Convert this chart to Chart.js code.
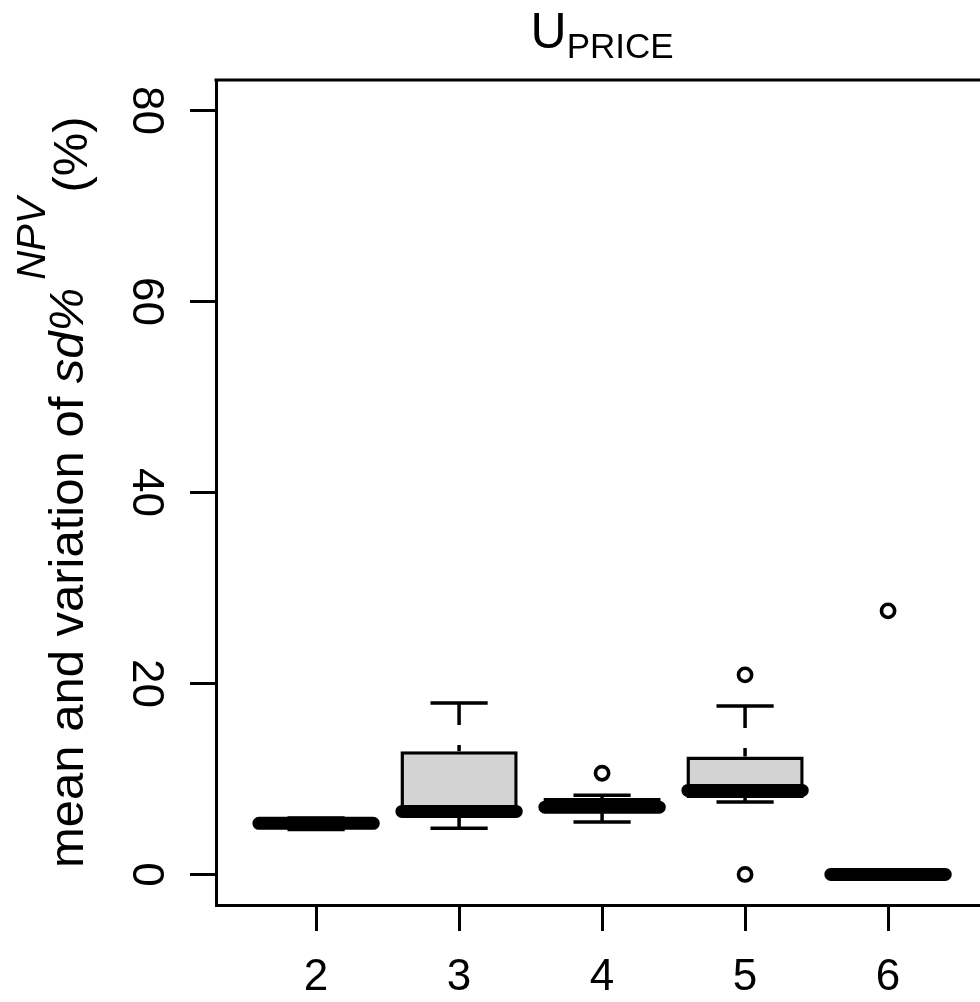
<!DOCTYPE html>
<html>
<head>
<meta charset="utf-8">
<script src="https://cdn.jsdelivr.net/npm/chart.js@4.4.1/dist/chart.umd.min.js"></script>
<style>
  html, body { margin: 0; padding: 0; background: #ffffff; overflow: hidden; }
  #wrap { width: 980px; height: 1002px; }
</style>
</head>
<body>
<div id="wrap"><canvas id="c" width="980" height="1002"></canvas></div>
<script>
// ---- data ----
const categories   = [2, 3, 4, 5, 6];
const xTickLabels  = ['2', '3', '4', '5', '6'];
const yTickValues  = [0, 20, 40, 60, 80];
const q1Values     = [5.1, 6.5, 6.4, 8.0, 0];
const q3Values     = [5.5, 12.9, 8.0, 12.35, 0];
const medianValues = [5.35, 6.6, 7.05, 8.8, 0];
const whiskerLow   = [4.7, 4.85, 5.5, 7.6, 0];
const whiskerHigh  = [5.9, 17.95, 8.3, 17.65, 0];
const outlierValues = [[], [], [10.6], [20.9, 0], [27.6]];

const titleMain = 'U';
const titleSub = 'PRICE';
const yTitleParts = ['mean and variation of ', 'sd%', 'NPV', '(%)'];

// ---- derived datasets (built from the arrays above) ----
const gap = (c) => ({ x: c, y: null });
const boxData = categories.map((c, i) => ({ x: c, y: [q1Values[i], q3Values[i]] }));
const whiskerData = [];
const stapleData = [];
const medianData = [];
const outlierData = [];
categories.forEach((c, i) => {
  whiskerData.push({ x: c, y: whiskerHigh[i] }, { x: c, y: q3Values[i] }, gap(c));
  whiskerData.push({ x: c, y: whiskerLow[i] }, { x: c, y: q1Values[i] }, gap(c));
  stapleData.push({ x: c - 0.2, y: whiskerHigh[i] }, { x: c + 0.2, y: whiskerHigh[i] }, gap(c));
  stapleData.push({ x: c - 0.2, y: whiskerLow[i] }, { x: c + 0.2, y: whiskerLow[i] }, gap(c));
  medianData.push({ x: c - 0.4, y: medianValues[i] }, { x: c + 0.4, y: medianValues[i] }, gap(c));
  outlierValues[i].forEach(v => outlierData.push({ x: c, y: v }));
});

const FONT = '"Liberation Sans", Arial, Helvetica, sans-serif';
Chart.defaults.font.family = FONT;
Chart.defaults.color = '#000';

const decor = {
  id: 'decor',
  afterDraw(chart) {
    const { ctx, chartArea, scales } = chart;
    const { left, right, top } = chartArea;
    ctx.save();
    // top frame line
    ctx.strokeStyle = '#000';
    ctx.lineWidth = 3;
    ctx.beginPath();
    ctx.moveTo(left - 1.5, top);
    ctx.lineTo(right, top);
    ctx.stroke();

    // title U_PRICE
    ctx.fillStyle = '#000';
    ctx.textBaseline = 'alphabetic';
    ctx.textAlign = 'left';
    ctx.font = '50px ' + FONT;
    const wU = ctx.measureText(titleMain).width;
    ctx.font = '35px ' + FONT;
    const wS = ctx.measureText(titleSub).width;
    const cx = scales.x.getPixelForValue(4);
    const sx = cx - (wU + wS) / 2;
    ctx.font = '50px ' + FONT;
    ctx.fillText(titleMain, sx, 48);
    ctx.font = '35px ' + FONT;
    ctx.fillText(titleSub, sx + wU, 58);

    // y axis title (rotated)
    ctx.translate(83, 868);
    ctx.rotate(-Math.PI / 2);
    let px = 0;
    ctx.font = '49px ' + FONT;
    ctx.fillText(yTitleParts[0], px, 0);
    px += ctx.measureText(yTitleParts[0]).width;
    ctx.font = 'italic 49px ' + FONT;
    ctx.fillText(yTitleParts[1], px, 0);
    px += ctx.measureText(yTitleParts[1]).width + 8;
    ctx.font = 'italic 40px ' + FONT;
    ctx.fillText(yTitleParts[2], px, -38);
    px += ctx.measureText(yTitleParts[2]).width + 5;
    ctx.font = '49px ' + FONT;
    ctx.fillText(yTitleParts[3], px, 4);
    ctx.restore();
  }
};

new Chart(document.getElementById('c'), {
  type: 'bar',
  data: {
    datasets: [
      {
        type: 'line', label: 'median', data: medianData, order: 0,
        borderColor: '#000', borderWidth: 13, borderCapStyle: 'round',
        pointRadius: 0, spanGaps: false, fill: false
      },
      {
        type: 'scatter', label: 'outliers', data: outlierData, order: 1,
        pointStyle: 'circle', pointRadius: 6.6, borderWidth: 3.6,
        borderColor: '#000', backgroundColor: '#fff'
      },
      {
        type: 'line', label: 'staples', data: stapleData, order: 2,
        borderColor: '#000', borderWidth: 3.5, borderCapStyle: 'butt',
        pointRadius: 0, spanGaps: false, fill: false
      },
      {
        type: 'line', label: 'whiskers', data: whiskerData, order: 3,
        borderColor: '#000', borderWidth: 3.5, borderDash: [22, 20], borderCapStyle: 'butt',
        pointRadius: 0, spanGaps: false, fill: false
      },
      {
        type: 'bar', label: 'box', data: boxData, order: 4,
        backgroundColor: '#d3d3d3', borderColor: '#000', borderWidth: 3.5,
        borderSkipped: false, barPercentage: 0.82, categoryPercentage: 1.0
      }
    ]
  },
  options: {
    responsive: false,
    animation: false,
    devicePixelRatio: 1,
    layout: { autoPadding: false, padding: { top: 80, left: 0, right: 0, bottom: 0 } },
    plugins: { legend: { display: false }, tooltip: { enabled: false }, title: { display: false } },
    scales: {
      x: {
        type: 'linear', min: 1.3, max: 6.643, offset: false,
        afterBuildTicks: (s) => { s.ticks = categories.map(v => ({ value: v })); },
        afterFit: (s) => { s.height = 97; s.paddingLeft = 0; s.paddingRight = 0; },
        grid: { display: true, offset: false, drawOnChartArea: false, drawTicks: true, tickLength: 26, tickWidth: 3, tickColor: '#000', lineWidth: 3, color: '#000' },
        border: { display: true, width: 3, color: '#000' },
        ticks: {
          font: { size: 44 }, color: '#000', padding: 20, maxRotation: 0, minRotation: 0,
          callback: (v) => { const i = categories.indexOf(v); return i >= 0 ? xTickLabels[i] : ''; }
        }
      },
      y: {
        type: 'linear', min: -3.2, max: 83.2,
        afterBuildTicks: (s) => { s.ticks = yTickValues.map(v => ({ value: v })); },
        afterFit: (s) => { s.width = 216; s.paddingTop = 0; s.paddingBottom = 0; },
        grid: { display: true, offset: false, drawOnChartArea: false, drawTicks: true, tickLength: 26, tickWidth: 3, tickColor: '#000', lineWidth: 3, color: '#000' },
        border: { display: true, width: 3, color: '#000' },
        ticks: {
          font: { size: 44 }, color: '#000', padding: 20, minRotation: -90, maxRotation: -90,
          crossAlign: 'center',
          callback: (v) => String(v)
        }
      }
    }
  },
  plugins: [decor]
});
</script>
</body>
</html>
